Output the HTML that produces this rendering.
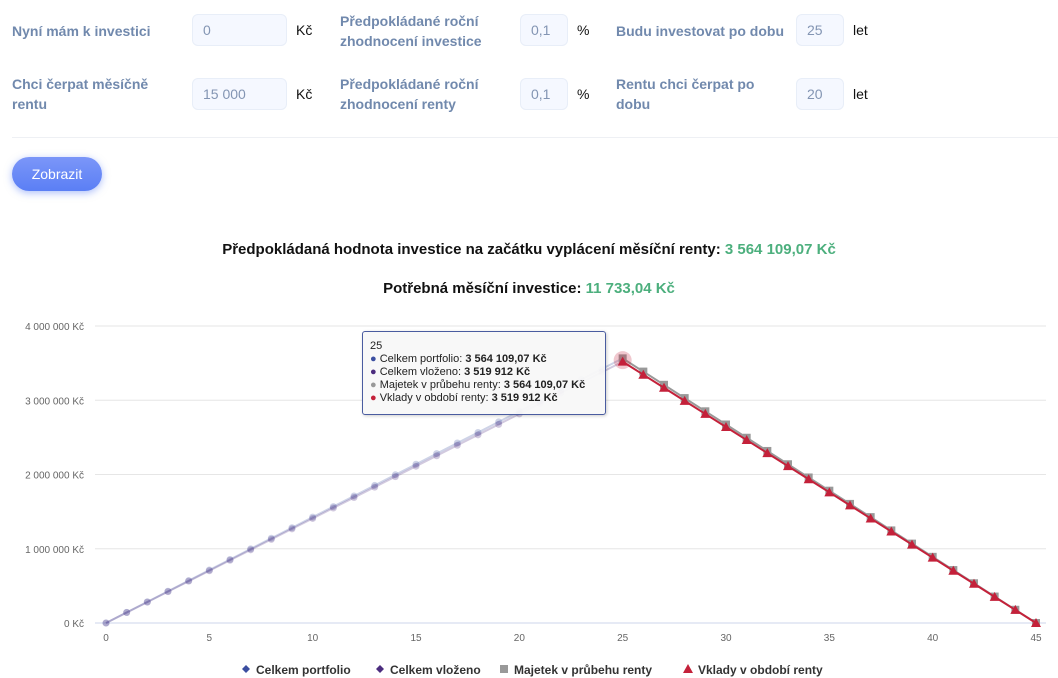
<!DOCTYPE html>
<html><head><meta charset="utf-8"><style>
body{margin:0;width:1058px;height:678px;background:#fff;font-family:"Liberation Sans",sans-serif;position:relative;overflow:hidden}
.lbl{position:absolute;color:#7189ad;font-weight:bold;font-size:14px;line-height:20px}
.inp{position:absolute;height:32px;background:#f5f8ff;border:1px solid #e8eef8;border-radius:6px;box-sizing:border-box;color:#8395b3;font-size:14px;line-height:30px;padding-left:10px}
.unit{position:absolute;font-size:14px;color:#111}
.title{position:absolute;left:0;width:1058px;text-align:center;font-weight:bold;font-size:15px;color:#111}
.title span{color:#4caf7d}
</style></head><body>
<div class="lbl" style="left:12px;top:21px">Nyní mám k investici</div>
<div class="inp" style="left:192px;top:14px;width:95px">0</div>
<div class="unit" style="left:296px;top:22px">Kč</div>
<div class="lbl" style="left:340px;top:11px">Předpokládané roční<br>zhodnocení investice</div>
<div class="inp" style="left:520px;top:14px;width:48px">0,1</div>
<div class="unit" style="left:577px;top:22px">%</div>
<div class="lbl" style="left:616px;top:21px">Budu investovat po dobu</div>
<div class="inp" style="left:796px;top:14px;width:48px">25</div>
<div class="unit" style="left:853px;top:22px">let</div>

<div class="lbl" style="left:12px;top:74px">Chci čerpat měsíčně<br>rentu</div>
<div class="inp" style="left:192px;top:78px;width:95px">15 000</div>
<div class="unit" style="left:296px;top:86px">Kč</div>
<div class="lbl" style="left:340px;top:74px">Předpokládané roční<br>zhodnocení renty</div>
<div class="inp" style="left:520px;top:78px;width:48px">0,1</div>
<div class="unit" style="left:577px;top:86px">%</div>
<div class="lbl" style="left:616px;top:74px">Rentu chci čerpat po<br>dobu</div>
<div class="inp" style="left:796px;top:78px;width:48px">20</div>
<div class="unit" style="left:853px;top:86px">let</div>

<div style="position:absolute;left:12px;top:137px;width:1046px;height:1px;background:#eef0f4"></div>
<div style="position:absolute;left:12px;top:157px;width:90px;height:34px;border-radius:17px;background:linear-gradient(#7b96f8,#5b7ff5);box-shadow:0 2px 8px rgba(91,127,245,.5);color:#fff;font-size:14px;text-align:center;line-height:34px">Zobrazit</div>

<div class="title" style="top:241px">Předpokládaná hodnota investice na začátku vyplácení měsíční renty: <span>3 564 109,07 Kč</span></div>
<div class="title" style="top:280px">Potřebná měsíční investice: <span>11 733,04 Kč</span></div>

<svg id="chart" width="1058" height="678" style="position:absolute;left:0;top:0" font-family="Liberation Sans, sans-serif"></svg>

<div style="position:absolute;left:362px;top:331px;width:244px;height:84px;border:1px solid #4a5ca0;border-radius:3px;background:rgba(248,248,248,.95);box-shadow:1px 1px 3px rgba(0,0,0,.2);font-size:11px;color:#222;line-height:13px;padding:8px 0 0 7px;box-sizing:border-box">
<div>25</div>
<div><span style="color:#3b4ea0">●</span> Celkem portfolio: <b>3 564 109,07 Kč</b></div>
<div><span style="color:#4b2c7e">●</span> Celkem vloženo: <b>3 519 912 Kč</b></div>
<div><span style="color:#999">●</span> Majetek v průbehu renty: <b>3 564 109,07 Kč</b></div>
<div><span style="color:#c4213a">●</span> Vklady v období renty: <b>3 519 912 Kč</b></div>
</div>

<script>
const yTicks=[0,1000000,2000000,3000000,4000000];
const yTickLabels=["0 Kč","1 000 000 Kč","2 000 000 Kč","3 000 000 Kč","4 000 000 Kč"];
const xTicks=[0,5,10,15,20,25,30,35,40,45];
const portfolio=[0,143000,285000,428000,570000,713000,855000,998000,1141000,1283000,1426000,1568000,1711000,1853000,1996000,2138000,2281000,2424000,2566000,2709000,2851000,2994000,3136000,3279000,3422000,3564109];
const invested=[0,140796,281592,422388,563184,703980,844776,985572,1126368,1267164,1407960,1548756,1689552,1830348,1971144,2111940,2252736,2393532,2534328,2675124,2815920,2956716,3097512,3238308,3379104,3519912];
const rentStart=25;
const assets=[3564109,3386000,3208000,3029000,2851000,2673000,2495000,2317000,2138000,1960000,1782000,1604000,1426000,1247000,1069000,891000,713000,535000,356000,178000,0];
const deposits=[3519912,3344000,3168000,2992000,2816000,2640000,2464000,2288000,2112000,1936000,1760000,1584000,1408000,1232000,1056000,880000,704000,528000,352000,176000,0];
const svg=document.getElementById('chart');const NS='http://www.w3.org/2000/svg';
const X=v=>106+v*(930/45);const Y=v=>623-v*(297/4000000);
function mk(t,a){const e=document.createElementNS(NS,t);for(const k in a)e.setAttribute(k,a[k]);svg.appendChild(e);return e;}
yTicks.forEach((t,i)=>{
const g=mk('line',{x1:95,x2:1046,y1:Y(t),y2:Y(t),stroke:i==0?'#ccd6eb':'#e6e6e6'});


const l=mk('text',{x:84,y:Y(t)+4,'text-anchor':'end','font-size':10,fill:'#666'});l.textContent=yTickLabels[i];


});
xTicks.forEach(t=>{
const l=mk('text',{x:X(t),y:641,'text-anchor':'middle','font-size':10,fill:'#666'});l.textContent=t;


});
function series(vals,start,color,op,marker,name){
const pts=vals.map((v,i)=>X(start+i)+','+Y(v)).join(' ');
const p=mk('polyline',{points:pts,fill:'none',stroke:color,'stroke-width':2,opacity:op});


vals.forEach((v,i)=>{const x=X(start+i),y=Y(v);let m;
if(marker=='sq')m=mk('rect',{x:x-4,y:y-4,width:8,height:8,fill:color,opacity:op});
else if(marker=='tri')m=mk('polygon',{points:`${x},${y-5} ${x+5},${y+4} ${x-5},${y+4}`,fill:color,opacity:op});
else m=mk('circle',{cx:x,cy:y,r:3.5,fill:color,opacity:op});


});}
series(portfolio,0,'#3b4ea0',0.25,'c','portfolio');
series(invested,0,'#4b2c7e',0.25,'c','invested');
series(assets,rentStart,'#999999',1,'sq','assets');
series(deposits,rentStart,'#c4213a',1,'tri','deposits');
const h=mk('circle',{cx:X(25),cy:Y(3540000),r:9,fill:'#c4213a',opacity:0.25});


const leg=[['Celkem portfolio','#3b4ea0','d',242],['Celkem vloženo','#4b2c7e','d',376],['Majetek v průbehu renty','#999','sq',500],['Vklady v období renty','#c4213a','tri',684]];
leg.forEach(([t,c,m,x])=>{let s;
if(m=='sq')s=mk('rect',{x:x,y:665,width:8,height:8,fill:c});
else if(m=='tri')s=mk('polygon',{points:`${x+4},${664} ${x+9},${673} ${x-1},${673}`,fill:c});
else s=mk('polygon',{points:`${x+4},${665} ${x+8},${669} ${x+4},${673} ${x},${669}`,fill:c});


const l=mk('text',{x:x+14,y:674,'font-size':12,'font-weight':'bold',fill:'#333'});l.textContent=t;


});
</script>
</body></html>
